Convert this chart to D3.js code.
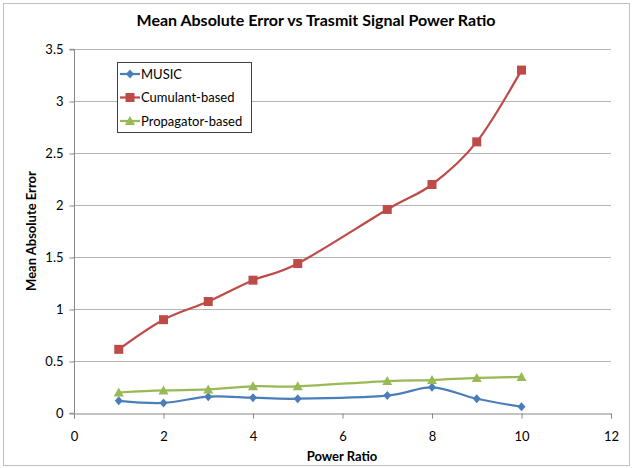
<!DOCTYPE html>
<html><head><meta charset="utf-8">
<script src="https://cdn.jsdelivr.net/npm/d3@7"></script>
<style>body{margin:0;background:#fff}svg{display:block;font-family:Lato,"Open Sans",sans-serif}</style>
</head><body><svg id="c" width="633" height="468"></svg>
<script>
const powerRatio = [1, 2, 3, 4, 5, 7, 8, 9, 10];
const music = [0.12, 0.10, 0.16, 0.15, 0.14, 0.17, 0.25, 0.14, 0.063];
const cumulant = [0.615, 0.90, 1.075, 1.28, 1.44, 1.96, 2.20, 2.61, 3.30];
const propagator = [0.20, 0.22, 0.23, 0.26, 0.26, 0.31, 0.32, 0.34, 0.35];
const xTicks = [0, 2, 4, 6, 8, 10, 12];
const yTicks = [0, 0.5, 1, 1.5, 2, 2.5, 3, 3.5];
const seriesNames = ["MUSIC", "Cumulant-based", "Propagator-based"];
const seriesColors = ["#4a7ebb", "#be4b48", "#98b954"];
const seriesMarkers = ["diamond", "square", "triangle"];

const svg = d3.select("#c");
svg.append("rect").attr("x", 3.5).attr("y", 3.5).attr("width", 626).attr("height", 462)
  .attr("fill", "#fff").attr("stroke", "#bfbfbf").attr("stroke-width", 1);

const x = d3.scaleLinear().domain([0, 12]).range([74, 611]);
const y = d3.scaleLinear().domain([0, 3.5]).range([413.3, 49.3]);

// gridlines
svg.append("g").selectAll("line").data(yTicks.filter(d => d > 0)).join("line")
  .attr("x1", x(0)).attr("x2", x(12))
  .attr("y1", d => Math.round(y(d)) + 0.5).attr("y2", d => Math.round(y(d)) + 0.5)
  .attr("stroke", "#b3b3b3").attr("stroke-width", 1);

// axes
const yAxis = svg.append("g").attr("transform", `translate(${Math.round(x(0)) + 0.5},0)`)
  .call(d3.axisLeft(y).tickValues(yTicks).tickFormat(d3.format("")).tickSize(5).tickPadding(6));
const xAxis = svg.append("g").attr("transform", `translate(0,${Math.round(y(0)) + 0.5})`)
  .call(d3.axisBottom(x).tickValues(xTicks).tickSize(5).tickPadding(13));
[yAxis, xAxis].forEach(a => {
  a.select(".domain").attr("stroke", "#868686");
  a.selectAll(".tick line").attr("stroke", "#868686");
  a.selectAll("text").attr("fill", "#000").style("font-size", "13px").style("font-family", "Lato, sans-serif");
});
yAxis.selectAll(".tick line").attr("y1", d => Math.round(y(d)) - y(d) + 0.5).attr("y2", d => Math.round(y(d)) - y(d) + 0.5);
yAxis.select(".domain").attr("d", `M-5,${y(3.5)}H0V${y(0)}H-5`);

// series
const allSeries = [music, cumulant, propagator];
const line = d3.line().x((d, i) => x(powerRatio[i])).y(d => y(d)).curve(d3.curveCardinal.tension(0));

function marker(g, type, color, cx, cy) {
  if (type === "diamond") {
    g.append("path").attr("d", `M${cx},${cy-4.5}L${cx+4},${cy}L${cx},${cy+4.5}L${cx-4},${cy}Z`).attr("fill", color);
  } else if (type === "square") {
    g.append("rect").attr("x", cx - 4.5).attr("y", cy - 4.5).attr("width", 9).attr("height", 9).attr("fill", color);
  } else {
    g.append("path").attr("d", `M${cx},${cy-5}L${cx+5},${cy+4}L${cx-5},${cy+4}Z`).attr("fill", color);
  }
}

allSeries.forEach((vals, k) => {
  const g = svg.append("g");
  g.append("path").datum(vals).attr("d", line).attr("fill", "none")
    .attr("stroke", seriesColors[k]).attr("stroke-width", 2.25);
  vals.forEach((v, i) => marker(g, seriesMarkers[k], seriesColors[k], x(powerRatio[i]), y(v)));
});

// legend
const lg = svg.append("g");
lg.append("rect").attr("x", 117.5).attr("y", 62.5).attr("width", 134).attr("height", 70)
  .attr("fill", "#fff").attr("stroke", "#404040").attr("stroke-width", 1);
seriesNames.forEach((n, k) => {
  const ly = 74 + k * 23.5;
  lg.append("line").attr("x1", 120).attr("x2", 140).attr("y1", ly).attr("y2", ly)
    .attr("stroke", seriesColors[k]).attr("stroke-width", 2.25);
  marker(lg, seriesMarkers[k], seriesColors[k], 130, ly);
  lg.append("text").attr("x", 141).attr("y", ly).attr("dy", "0.35em").style("font-size", "13px").text(n);
});

// title & labels
svg.append("text").attr("x", 316).attr("y", 26).attr("text-anchor", "middle")
  .style("font-size", "16px").style("font-weight", "bold").text("Mean Absolute Error vs Trasmit Signal Power Ratio");
svg.append("text").attr("x", 342).attr("y", 461).attr("text-anchor", "middle")
  .style("font-size", "13px").style("font-weight", "bold").text("Power Ratio");
svg.append("text").attr("transform", "translate(36,231) rotate(-90)").attr("text-anchor", "middle")
  .style("font-size", "13px").style("font-weight", "bold").text("Mean Absolute Error");
</script></body></html>
